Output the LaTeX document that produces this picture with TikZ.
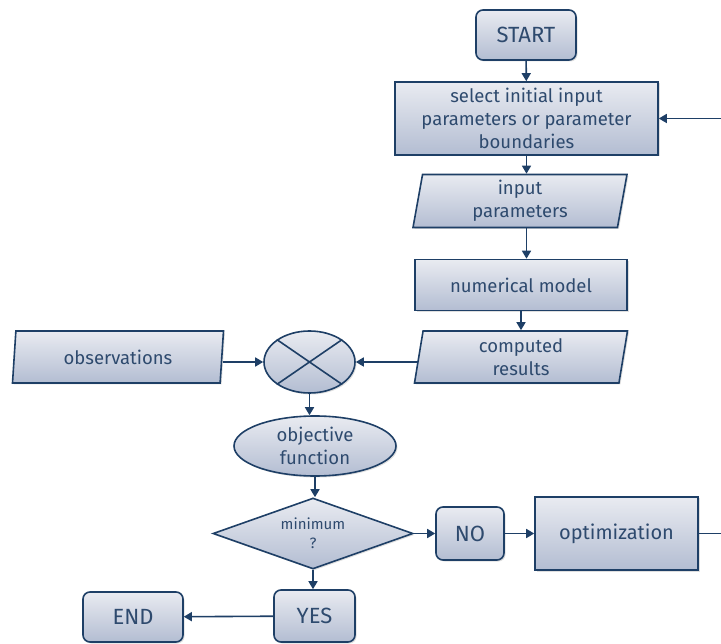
\documentclass[tikz,border=0pt]{standalone}
\usepackage{fontspec}
\setmainfont{Fira Sans}
\usetikzlibrary{shapes.geometric,shadows,arrows.meta,calc}
\definecolor{edge}{HTML}{1E3F66}
\definecolor{txt}{HTML}{2E4A6E}
\definecolor{topc}{HTML}{E9EBF1}
\definecolor{botc}{HTML}{B3BDD2}
\begin{document}
\begin{tikzpicture}[x=1pt,y=-1pt,
 base/.style={draw=edge, line width=1.6pt, top color=topc, bottom color=botc, text=txt,
   font=\fontsize{18.5}{23}\selectfont, align=center, inner sep=0pt,
   drop shadow={opacity=0.25,shadow xshift=1.5pt,shadow yshift=-1.5pt}},
 capfont/.style={font=\fontsize{22}{26}\selectfont},
 rbox/.style={base, rectangle, rounded corners=7pt},
 sbox/.style={base, rectangle},
 para/.style={base, trapezium, trapezium left angle=77, trapezium right angle=103, trapezium stretches body},
 ell/.style={base, ellipse},
 dia/.style={base, diamond, aspect=2.8},
 arr/.style={draw=edge, line width=1.6pt, -{Triangle[length=8pt,width=9pt]}},
 ln/.style={draw=edge, line width=1.6pt}]
\useasboundingbox (0,0) rectangle (721,644);

\node[rbox, capfont, minimum width=100pt, minimum height=50pt] (start) at (526,35) {START};
\node[sbox, minimum width=263pt, minimum height=73pt] (select) at (526.5,118.5) {select initial input\\parameters or parameter\\boundaries};
\node[para, minimum width=214pt, minimum height=53pt] (inp) at (520,201) {input\\parameters};
\node[sbox, minimum width=212pt, minimum height=51pt] (num) at (521,285) {numerical model};
\node[para, minimum width=213pt, minimum height=52pt] (comp) at (521,357) {computed\\results};
\node[para, minimum width=211pt, minimum height=52pt] (obs) at (118,357) {observations};
\node[ell, minimum width=91pt, minimum height=62pt] (sum) at (309.5,362) {};
\draw[ln] (sum.north west) -- (sum.south east) (sum.north east) -- (sum.south west);
\node[ell, minimum width=162pt, minimum height=60pt] (obj) at (315,446) {objective\\function};
\node[dia, minimum width=200pt, minimum height=71pt, font=\fontsize{15}{19}\selectfont] (dia) at (313,533.5) {minimum\\?};
\node[rbox, capfont, minimum width=68pt, minimum height=53pt] (no) at (470,533.5) {NO};
\node[sbox, font=\fontsize{20}{24}\selectfont, minimum width=163pt, minimum height=73pt] (opt) at (616.5,533.5) {optimization};
\node[rbox, capfont, minimum width=81pt, minimum height=52pt] (yes) at (314.5,616) {YES};
\node[rbox, capfont, minimum width=100pt, minimum height=50pt] (end) at (133,617) {END};
\coordinate (r1) at (721,533.5);
\coordinate (r2) at (721,118.5);

\draw[arr] (start) -- (select);
\draw[arr] (select) -- (select.south|-inp.north);
\draw[arr] (inp.south-|select.south) -- (num.north-|select.south);
\draw[arr] (num) -- (comp);
\draw[arr] (comp.west|-sum.east) -- (sum.east);
\draw[arr] (obs.east|-sum.west) -- (sum.west);
\draw[arr] (sum.south) -- (sum.south|-obj.north);
\draw[arr] (obj.south) -- (obj.south|-dia.north);
\draw[arr] (dia) -- (no);
\draw[arr] (no) -- (opt);
\draw[ln] (opt.east) -- (r1);
\draw[arr] (r2) -- (select.east);
\draw[arr] (dia.south) -- (dia.south|-yes.north);
\draw[arr] (yes) -- (end);
\end{tikzpicture}
\end{document}
